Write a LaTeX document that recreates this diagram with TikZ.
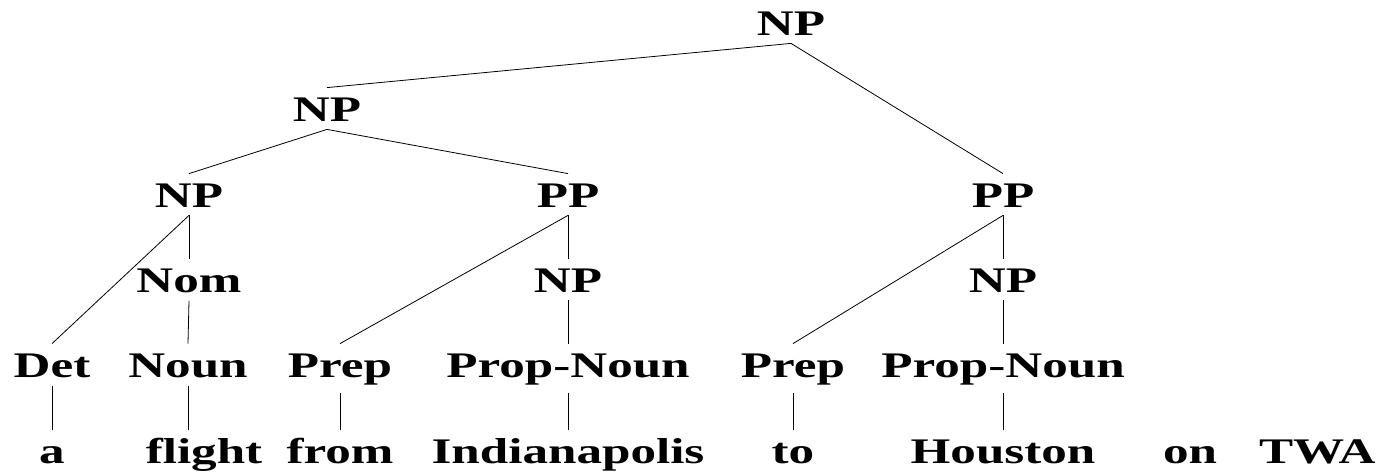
\documentclass[tikz,border=0pt]{standalone}
\usepackage{fontspec}
\newfontfamily\treefont[FakeStretch=1.42]{Liberation Serif}
\begin{document}
\begin{tikzpicture}[x=1pt,y=-1pt,line width=0.8pt,
  cat/.style={anchor=base,inner xsep=0pt,inner ysep=8pt,text height=25pt,
    font=\treefont\bfseries\fontsize{36}{42}\selectfont}]
\useasboundingbox (0,0) rectangle (1380,471);
\node[cat] (np0) at (791,35) {NP};
\node[cat] (np1) at (327,121) {NP};
\node[cat] (np2) at (189,207) {NP};
\node[cat] (pp1) at (568,207) {PP};
\node[cat] (pp2) at (1003,207) {PP};
\node[cat] (nom) at (189,292) {Nom};
\node[cat] (np3) at (568,292) {NP};
\node[cat] (np4) at (1003,292) {NP};
\node[cat] (det) at (52,377) {Det};
\node[cat] (noun) at (188,377) {Noun};
\node[cat] (prep1) at (340,377) {Prep};
\node[cat] (pn1) at (568,377) {Prop-Noun};
\node[cat] (prep2) at (793,377) {Prep};
\node[cat] (pn2) at (1003,377) {Prop-Noun};
\node[cat] (w1) at (52,463) {a};
\node[cat] (w2) at (204,463) {flight};
\node[cat] (w3) at (340,463) {from};
\node[cat] (w4) at (568,463) {Indianapolis};
\node[cat] (w5) at (793,463) {to};
\node[cat] (w6) at (1003,463) {Houston};
\node[cat] (w7) at (1190,463) {on};
\node[cat,anchor=base east] (w8) at (1376,463) {TWA};
\draw (np0.south)--(np1.north);
\draw (np0.south)--(pp2.north);
\draw (np1.south)--(np2.north);
\draw (np1.south)--(pp1.north);
\draw (np2.south)--(det.north);
\draw (np2.south)--(nom.north);
\draw (nom.south)--(noun.north);
\draw (pp1.south)--(prep1.north);
\draw (pp1.south)--(np3.north);
\draw (np3.south)--(pn1.north);
\draw (pp2.south)--(prep2.north);
\draw (pp2.south)--(np4.north);
\draw (np4.south)--(pn2.north);
\draw (det.south)--(w1.north);
\draw (noun.south)--(noun.south|-w2.north);
\draw (prep1.south)--(w3.north);
\draw (pn1.south)--(w4.north);
\draw (prep2.south)--(w5.north);
\draw (pn2.south)--(w6.north);
\end{tikzpicture}
\end{document}
